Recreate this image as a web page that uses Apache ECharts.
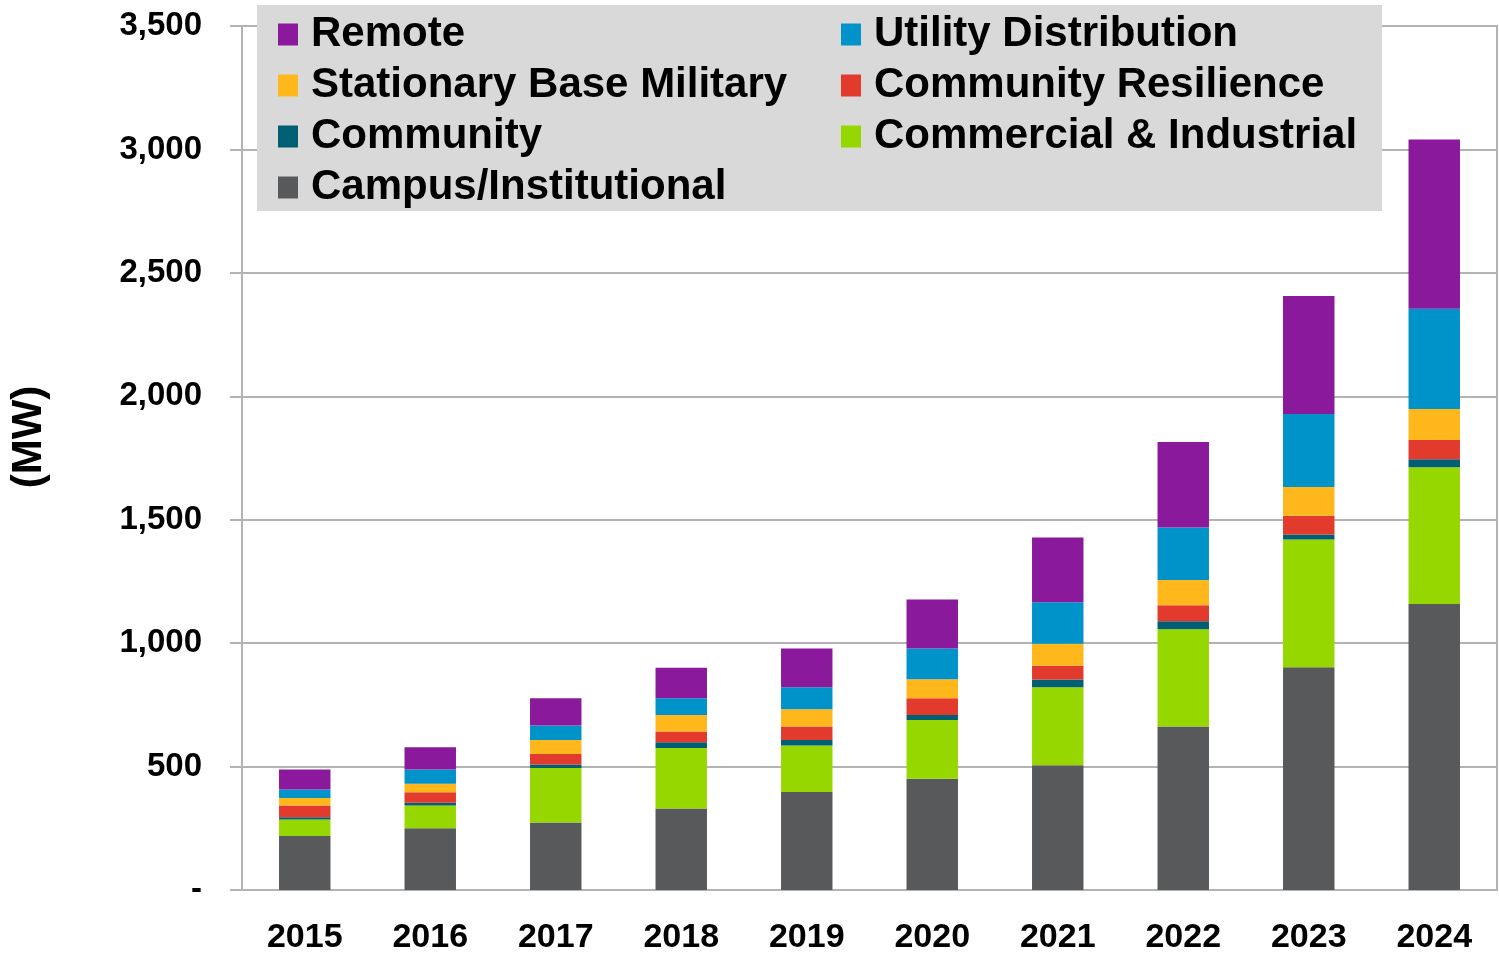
<!DOCTYPE html>
<html>
<head>
<meta charset="utf-8">
<script src="https://cdn.jsdelivr.net/npm/echarts@6/dist/echarts.min.js"></script>
<style>
  html, body { margin: 0; padding: 0; background: #fff; }
  #chart { width: 1499px; height: 958px; }
</style>
</head>
<body>
<div id="chart"></div>
<script>
// values (MW)
const years = ["2015", "2016", "2017", "2018", "2019", "2020", "2021", "2022", "2023", "2024"]
const campus = [219, 250, 273, 330, 397, 451, 505, 662, 902, 1159]
const commercialIndustrial = [67, 92, 221, 245, 188, 238, 316, 394, 518, 554]
const community = [9, 11, 14, 24, 23, 20, 32, 33, 20, 32]
const communityResilience = [47, 43, 43, 43, 54, 68, 55, 64, 76, 78]
const stationaryBaseMilitary = [31, 34, 57, 67, 70, 77, 90, 103, 117, 125]
const utilityDistribution = [34, 58, 58, 68, 89, 124, 168, 212, 295, 407]
const remote = [81, 90, 111, 123, 157, 199, 262, 347, 478, 685]
const yTicks = [0, 500, 1000, 1500, 2000, 2500, 3000, 3500]

// bottom of the stack first
const stack = [
  { name: "Campus/Institutional", data: campus, color: "#58595b" },
  { name: "Commercial & Industrial", data: commercialIndustrial, color: "#97d700" },
  { name: "Community", data: community, color: "#005f73" },
  { name: "Community Resilience", data: communityResilience, color: "#e23b2e" },
  { name: "Stationary Base Military", data: stationaryBaseMilitary, color: "#ffb71b" },
  { name: "Utility Distribution", data: utilityDistribution, color: "#0093c9" },
  { name: "Remote", data: remote, color: "#8a1a9b" },
]

const font = "Arial, 'Liberation Sans', sans-serif"
const gridColor = "#b3b3b3"

const chart = echarts.init(document.getElementById("chart"))

chart.setOption({
  animation: false,
  textStyle: { fontFamily: font },
  grid: {
    left: 240, right: 2, top: 26, bottom: 68,
    show: true, borderColor: gridColor, borderWidth: 2,
  },
  graphic: [
    {
      type: "rect",
      left: 257, top: 5, z: 1,
      shape: { width: 1125, height: 206 },
      style: { fill: "#d9d9d9" },
    },
  ],
  legend: {
    left: 278, top: 9, width: 1135,
    padding: 0, itemGap: 0,
    itemWidth: 20, itemHeight: 22,
    icon: "rect", selectedMode: false,
    data: stack.map((s) => s.name).reverse(),
    textStyle: {
      fontFamily: font, fontSize: 42, fontWeight: "bold", color: "#000",
      width: 530, lineHeight: 51, padding: [0, 0, 0, 8],
    },
  },
  xAxis: {
    type: "category",
    data: years,
    axisLine: { lineStyle: { color: gridColor, width: 2 } },
    axisTick: { length: 12, lineStyle: { color: gridColor, width: 2 } },
    axisLabel: { color: "#000", fontSize: 34, fontWeight: "bold", margin: 31 },
  },
  yAxis: {
    type: "value",
    min: yTicks[0], max: yTicks[yTicks.length - 1], interval: 500,
    name: "(MW)",
    nameLocation: "middle",
    nameGap: 192,
    nameTextStyle: { fontSize: 42, fontWeight: "bold", color: "#000", padding: [0, 0, 0, 42] },
    axisLine: { show: true, lineStyle: { color: gridColor, width: 2 } },
    axisTick: { show: true, length: 12, lineStyle: { color: gridColor, width: 2 } },
    axisLabel: {
      color: "#000", fontSize: 33, fontWeight: "bold", margin: 40,
      formatter: (v) => (v === 0 ? "-" : v.toLocaleString("en-US")),
    },
    splitLine: { lineStyle: { color: gridColor, width: 2 } },
  },
  series: stack.map((s) => ({
    name: s.name,
    type: "bar",
    stack: "total",
    data: s.data,
    barWidth: "41%",
    z: 3,
    itemStyle: { color: s.color },
  })),
})
</script>
</body>
</html>
